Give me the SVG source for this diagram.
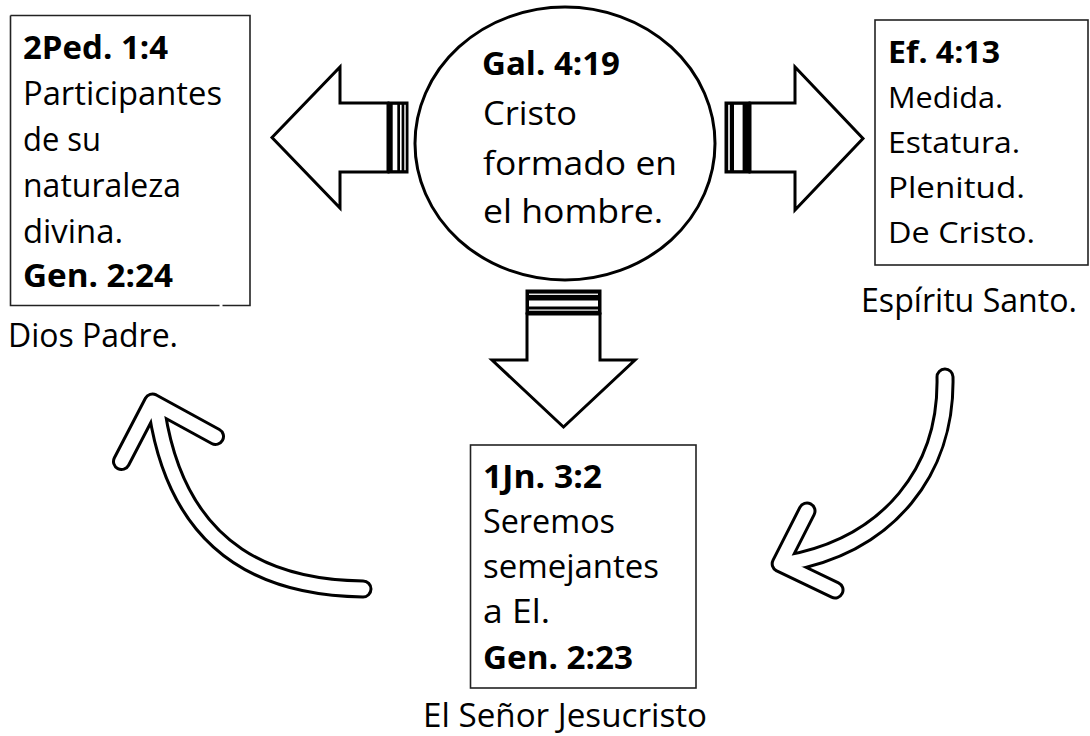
<svg xmlns="http://www.w3.org/2000/svg" width="1090" height="736" viewBox="0 0 1090 736">
<style>
.t{font-family:"Open Sans","Noto Sans","DejaVu Sans",sans-serif;font-size:32px;fill:#000}
.s{font-size:30px}
.b{font-weight:bold}
.box{fill:#fff;stroke:#222;stroke-width:1.6}
.blk{fill:#fff;stroke:#000;stroke-width:3;stroke-linejoin:miter}
.co{fill:none;stroke:#000;stroke-width:19;stroke-linecap:round;stroke-linejoin:round}
.ci{fill:none;stroke:#fff;stroke-width:13;stroke-linecap:round;stroke-linejoin:round}
</style>
<rect width="1090" height="736" fill="#fff"/>

<g id="connectors">
  <g id="arrow-left">
    <polygon class="blk" points="272,137.5 340,67 340,103 388,103 388,172 340,172 340,208"/>
    <rect x="387.5" y="101.5" width="21" height="72" fill="#000"/>
    <rect x="392.7" y="104.8" width="4.6" height="65.4" fill="#fff"/>
    <rect x="400" y="104.8" width="1.6" height="65.4" fill="#fff"/>
    <rect x="404.3" y="104.8" width="1.4" height="65.4" fill="#fff"/>
  </g>
  <g id="arrow-right">
    <polygon class="blk" points="750,103 795,103 795,67 863,138.5 795,210 795,172 750,172"/>
    <rect x="724.5" y="101.5" width="26" height="72" fill="#000"/>
    <rect x="728.2" y="104.8" width="1.6" height="65.4" fill="#fff"/>
    <rect x="734" y="104.8" width="8.6" height="65.4" fill="#fff"/>
  </g>
  <g id="arrow-down">
    <polygon class="blk" points="527,314 600,314 600,360 635,360 563.5,427 492,360 527,360"/>
    <rect x="525.5" y="289.5" width="76" height="25" fill="#000"/>
    <rect x="529" y="293.6" width="69" height="1.3" fill="#fff"/>
    <rect x="529" y="300.5" width="69" height="6" fill="#fff"/>
    <rect x="529" y="309.5" width="69" height="1.2" fill="#fff"/>
  </g>
  <g id="curve-left">
    <path class="co" d="M363 589 C280 588 180 560 157 412 M121.5 461.5 L152.5 402 L215.5 436.5"/>
    <path class="ci" d="M363 589 C280 588 180 560 157 412 M121.5 461.5 L152.5 402 L215.5 436.5"/>
  </g>
  <g id="curve-right">
    <path class="co" d="M945 377 C947 470 890 545 786 563.5 M807 511 L780.2 563.7 L835 590"/>
    <path class="ci" d="M945 377 C947 470 890 545 786 563.5 M807 511 L780.2 563.7 L835 590"/>
  </g>
</g>

<g id="node-2ped">
  <path d="M10.5 15.5 H250 V305.5 H222.5 M219.5 305.5 H10.5 V15.5" fill="none" stroke="#222" stroke-width="1.6"/>
  <text class="t b" x="23" y="59" textLength="145" lengthAdjust="spacingAndGlyphs">2Ped. 1:4</text>
  <text class="t" x="23" y="105" textLength="199" lengthAdjust="spacingAndGlyphs">Participantes</text>
  <text class="t" x="23" y="151" textLength="78" lengthAdjust="spacingAndGlyphs">de su</text>
  <text class="t" x="23" y="197" textLength="158" lengthAdjust="spacingAndGlyphs">naturaleza</text>
  <text class="t" x="23" y="243" textLength="100" lengthAdjust="spacingAndGlyphs">divina.</text>
  <text class="t b" x="23" y="287" textLength="150" lengthAdjust="spacingAndGlyphs">Gen. 2:24</text>
  <text class="t" x="8" y="347" textLength="170" lengthAdjust="spacingAndGlyphs">Dios Padre.</text>
</g>

<g id="node-gal">
  <ellipse cx="565" cy="143.5" rx="150" ry="136.5" fill="#fff" stroke="#000" stroke-width="3"/>
  <text class="t b" x="482" y="75" textLength="138" lengthAdjust="spacingAndGlyphs">Gal. 4:19</text>
  <text class="t" x="483" y="125" textLength="94" lengthAdjust="spacingAndGlyphs">Cristo</text>
  <text class="t" x="483" y="175" textLength="194" lengthAdjust="spacingAndGlyphs">formado en</text>
  <text class="t" x="483" y="223" textLength="180" lengthAdjust="spacingAndGlyphs">el hombre.</text>
</g>

<g id="node-ef">
  <rect class="box" x="875" y="20" width="213" height="245"/>
  <text class="t s b" x="888" y="63" textLength="112" lengthAdjust="spacingAndGlyphs">Ef. 4:13</text>
  <text class="t s" x="888" y="108" textLength="115" lengthAdjust="spacingAndGlyphs">Medida.</text>
  <text class="t s" x="888" y="153" textLength="132" lengthAdjust="spacingAndGlyphs">Estatura.</text>
  <text class="t s" x="888" y="198" textLength="137" lengthAdjust="spacingAndGlyphs">Plenitud.</text>
  <text class="t s" x="888" y="243" textLength="147" lengthAdjust="spacingAndGlyphs">De Cristo.</text>
  <text class="t" x="861" y="312" textLength="216" lengthAdjust="spacingAndGlyphs">Espíritu Santo.</text>
</g>

<g id="node-1jn">
  <rect class="box" x="470.5" y="445" width="225.5" height="243"/>
  <text class="t b" x="483" y="488" textLength="119" lengthAdjust="spacingAndGlyphs">1Jn. 3:2</text>
  <text class="t" x="483" y="533" textLength="132" lengthAdjust="spacingAndGlyphs">Seremos</text>
  <text class="t" x="483" y="578" textLength="176" lengthAdjust="spacingAndGlyphs">semejantes</text>
  <text class="t" x="483" y="623" textLength="67" lengthAdjust="spacingAndGlyphs">a El.</text>
  <text class="t b" x="483" y="669" textLength="150" lengthAdjust="spacingAndGlyphs">Gen. 2:23</text>
  <text class="t" x="423" y="727" textLength="284" lengthAdjust="spacingAndGlyphs">El Señor Jesucristo</text>
</g>
</svg>
